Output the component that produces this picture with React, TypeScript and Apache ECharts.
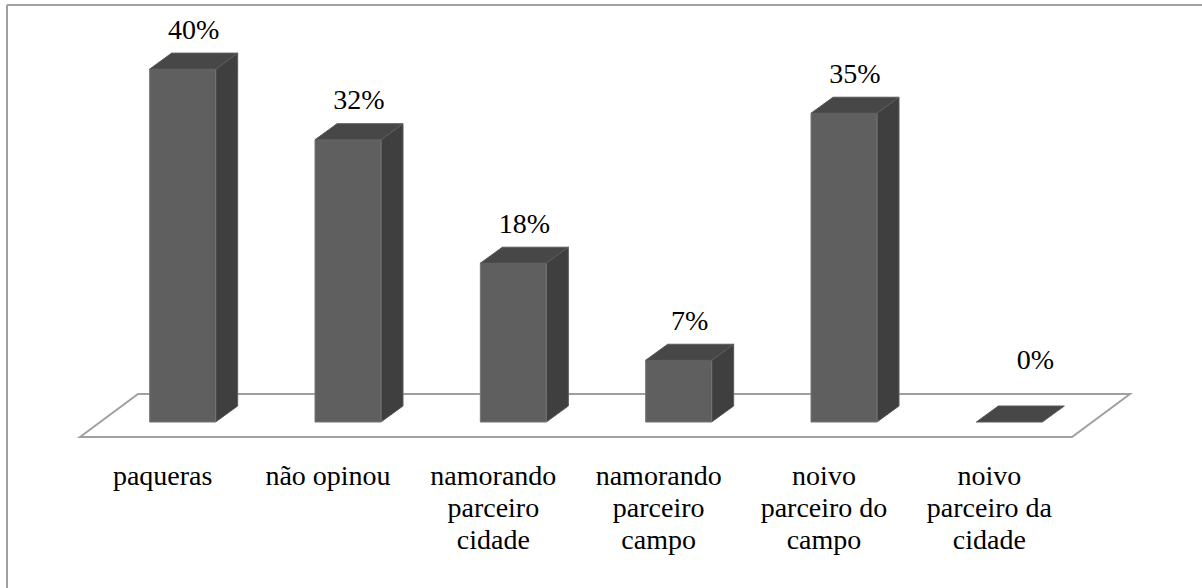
import React, { useEffect, useRef } from "react";
import * as echarts from "echarts";

const categories = [
  "paqueras",
  "não opinou",
  "namorando\nparceiro\ncidade",
  "namorando\nparceiro\ncampo",
  "noivo\nparceiro do\ncampo",
  "noivo\nparceiro da\ncidade",
];
const values = [40, 32, 18, 7, 35, 0];
const yMin = 0;
const yMax = 45;

const FONT = "Liberation Serif";
const FONT_SIZE = 28;
const LINE_H = 32;
const DX = 22; // bar depth x
const DY = -16; // bar depth y
const SHIFT_X = 20; // bar front plane offset from floor front edge
const SHIFT_Y = -15;
const FLOOR_DX = 58;
const FLOOR_DY = -43;
const BAR_W = 66;

export default function App() {
  const ref = useRef<HTMLDivElement>(null);
  useEffect(() => {
    if (!ref.current) return;
    const chart = echarts.init(ref.current, null, { renderer: "svg" });
    chart.setOption({
      animation: false,
      backgroundColor: "#ffffff",
      grid: { left: 80, right: 130, top: 40, bottom: 151 },
      xAxis: {
        type: "category",
        data: categories,
        axisLine: { show: false },
        axisTick: { show: false },
        axisLabel: { show: false },
      },
      yAxis: {
        type: "value",
        min: yMin,
        max: yMax,
        show: false,
        splitLine: { show: false },
      },
      graphic: [
        {
          type: "line",
          shape: { x1: 7, y1: 5, x2: 1202, y2: 5 },
          style: { stroke: "#a0a0a0", lineWidth: 2 },
          z: 0,
        },
        {
          type: "line",
          shape: { x1: 7, y1: 5, x2: 7, y2: 588 },
          style: { stroke: "#a0a0a0", lineWidth: 2 },
          z: 0,
        },
      ],
      series: [
        {
          type: "custom",
          z: 1,
          data: [0],
          renderItem: (params: any, api: any) => {
            const cs = params.coordSys;
            const fy = cs.y + cs.height;
            const fl = cs.x;
            const fr = cs.x + cs.width;
            return {
              type: "polygon",
              shape: {
                points: [
                  [fl, fy],
                  [fl + FLOOR_DX, fy + FLOOR_DY],
                  [fr + FLOOR_DX, fy + FLOOR_DY],
                  [fr, fy],
                ],
              },
              style: { fill: "#ffffff", stroke: "#a0a0a0", lineWidth: 2 },
            };
          },
        },
        {
          type: "custom",
          z: 2,
          data: values.map((v, i) => [i, v]),
          renderItem: (params: any, api: any) => {
            const i = api.value(0);
            const v = api.value(1);
            const top = api.coord([i, v]);
            const base = api.coord([i, 0]);
            const cx = top[0] + SHIFT_X;
            const by = base[1] + SHIFT_Y;
            const ty = top[1] + SHIFT_Y;
            const l = cx - BAR_W / 2;
            const r = cx + BAR_W / 2;
            const children: any[] = [];
            if (by - ty > 0.5) {
              children.push({
                type: "polygon",
                shape: {
                  points: [
                    [r, ty],
                    [r + DX, ty + DY],
                    [r + DX, by + DY],
                    [r, by],
                  ],
                },
                style: { fill: "#3f3f3f", stroke: "#5a5a5a", lineWidth: 1 },
              });
              children.push({
                type: "rect",
                shape: { x: l, y: ty, width: BAR_W, height: by - ty },
                style: { fill: "#5f5f5f", stroke: "#757575", lineWidth: 1 },
              });
            }
            children.push({
              type: "polygon",
              shape: {
                points: [
                  [l, ty],
                  [l + DX, ty + DY],
                  [r + DX, ty + DY],
                  [r, ty],
                ],
              },
              style: { fill: "#474747", stroke: "#5a5a5a", lineWidth: 1 },
            });
            const labelY = Math.min(ty + DY - 24, by - 63);
            const labelX = v === 0 ? cx + DX + 4 : cx + DX / 2;
            children.push({
              type: "text",
              x: labelX,
              y: labelY,
              style: {
                text: v + "%",
                align: "center",
                verticalAlign: "middle",
                fontSize: FONT_SIZE,
                fontFamily: FONT,
                fill: "#000",
              },
            });
            // category label under the floor's front edge
            children.push({
              type: "text",
              x: base[0],
              y: base[1] + 22,
              style: {
                text: categories[i],
                align: "center",
                verticalAlign: "top",
                fontSize: FONT_SIZE,
                fontFamily: FONT,
                lineHeight: LINE_H,
                fill: "#000",
              },
            });
            return { type: "group", children };
          },
        },
      ],
    });
    return () => chart.dispose();
  }, []);
  return (
    <div
      ref={ref}
      style={{ position: "absolute", left: 0, top: 0, width: 1202, height: 588 }}
    />
  );
}
